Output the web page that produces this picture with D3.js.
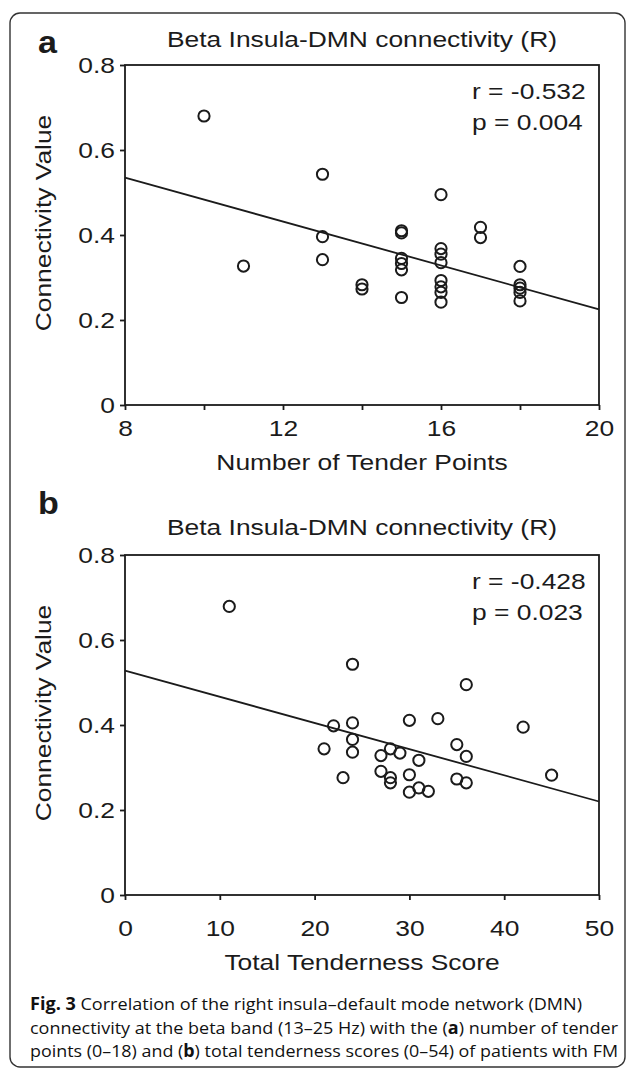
<!DOCTYPE html>
<html>
<head>
<meta charset="utf-8">
<script src="https://cdn.jsdelivr.net/npm/d3@7"></script>
<style>
  html, body { margin: 0; padding: 0; background: #fff; }
  svg { display: block; }
</style>
</head>
<body>
<svg id="chart" width="627" height="1069"></svg>
<script>
// ---------------- data ----------------
const tenderPoints = [10, 11, 13, 13, 13, 14, 14, 15, 15, 15, 15, 15, 15, 16, 16, 16, 16, 16, 16, 16, 16, 17, 17, 18, 18, 18, 18, 18];
const connA = [0.680, 0.327, 0.543, 0.396, 0.342, 0.283, 0.273, 0.410, 0.405, 0.345, 0.333, 0.318, 0.253, 0.495, 0.368, 0.355, 0.335, 0.293, 0.278, 0.265, 0.242, 0.418, 0.394, 0.326, 0.283, 0.275, 0.265, 0.245];
const tenderScore = [11, 24, 36, 22, 24, 30, 33, 42, 24, 21, 24, 27, 28, 29, 31, 35, 36, 27, 28, 28, 23, 30, 35, 36, 45, 30, 31, 32];
const connB = [0.679, 0.543, 0.495, 0.398, 0.405, 0.411, 0.415, 0.395, 0.366, 0.344, 0.336, 0.328, 0.344, 0.334, 0.317, 0.354, 0.326, 0.291, 0.276, 0.264, 0.276, 0.283, 0.273, 0.264, 0.282, 0.242, 0.252, 0.244];
const fitAx = [8, 20], fitAy = [0.535, 0.225];
const fitBx = [0, 50], fitBy = [0.528, 0.220];
const yTicks = [0, 0.2, 0.4, 0.6, 0.8];
const xTicksA = [8, 10, 12, 14, 16, 18, 20];
const xLabelsA = [8, 12, 16, 20];
const xTicksB = [0, 10, 20, 30, 40, 50];
const titleText = "Beta Insula-DMN connectivity (R)";
const statsA = ["r = -0.532", "p = 0.004"];
const statsB = ["r = -0.428", "p = 0.023"];
const captionLines = [
  [["Fig. 3", true], [" Correlation of the right insula\u2013default mode network (DMN)", false]],
  [["connectivity at the beta band (13\u201325 Hz) with the (", false], ["a", true], [") number of tender", false]],
  [["points (0\u201318) and (", false], ["b", true], [") total tenderness scores (0\u201354) of patients with FM", false]]
];

// ---------------- drawing ----------------
const svg = d3.select("#chart");
const INK = "#1b1b1b";
const FONT = "'Liberation Sans', Arial, Helvetica, sans-serif";
const FS = 22, SX = 1.2;

svg.append("rect").attr("x", 10).attr("y", 13).attr("width", 615).attr("height", 1054)
  .attr("rx", 10).attr("fill", "none").attr("stroke", "#333").attr("stroke-width", 1.4);

function stxt(x, y, str, anchor, opts = {}) {
  const t = svg.append("text")
    .attr("transform", `translate(${x},${y})${opts.rot ? " rotate(" + opts.rot + ")" : ""} scale(${opts.sx || SX},1)`)
    .attr("text-anchor", anchor)
    .attr("font-family", FONT)
    .attr("font-size", opts.fs || FS)
    .attr("font-weight", opts.bold ? "bold" : "normal")
    .attr("fill", INK)
    .text(str);
  return t;
}

function panel(cfg) {
  const x = d3.scaleLinear().domain(cfg.xDomain).range([125, 599]);
  const y = d3.scaleLinear().domain([0, 0.8]).range([cfg.bottom, cfg.bottom - 340]);
  const g = svg.append("g");

  // box
  g.append("rect").attr("x", x.range()[0]).attr("y", y(0.8))
    .attr("width", x.range()[1] - x.range()[0]).attr("height", y(0) - y(0.8))
    .attr("fill", "none").attr("stroke", INK).attr("stroke-width", 1.8);

  // y axis
  const ya = g.append("g").attr("transform", `translate(${x.range()[0]},0)`)
    .call(d3.axisLeft(y).tickValues(yTicks).tickSize(5).tickPadding(5)
      .tickFormat(d => d === 0 ? "0" : d3.format(".1f")(d)));
  ya.select(".domain").remove();
  ya.selectAll("line").attr("stroke", INK).attr("stroke-width", 1.8);
  ya.selectAll("text").attr("font-family", FONT).attr("font-size", FS).attr("fill", INK)
    .attr("x", -10 / SX).attr("dy", "0.36em").attr("transform", `scale(${SX},1)`);

  // x axis
  const xa = g.append("g").attr("transform", `translate(0,${cfg.bottom})`)
    .call(d3.axisBottom(x).tickValues(cfg.xTicks).tickSize(5).tickPadding(0)
      .tickFormat(d => cfg.xLabels.includes(d) ? d : ""));
  xa.select(".domain").remove();
  xa.selectAll("line").attr("stroke", INK).attr("stroke-width", 1.8);
  xa.selectAll("text").attr("font-family", FONT).attr("font-size", FS).attr("fill", INK)
    .attr("y", cfg.tickBase - cfg.bottom).attr("dy", 0).attr("transform", `scale(${SX},1)`);

  // fit line
  g.append("line")
    .attr("x1", x(cfg.fitX[0])).attr("y1", y(cfg.fitY[0]))
    .attr("x2", x(cfg.fitX[1])).attr("y2", y(cfg.fitY[1]))
    .attr("stroke", INK).attr("stroke-width", 1.8);

  // points
  g.selectAll("circle.pt").data(cfg.xs.map((v, i) => [v, cfg.ys[i]])).join("circle")
    .attr("class", "pt")
    .attr("cx", d => x(d[0])).attr("cy", d => y(d[1])).attr("r", 5.6)
    .attr("fill", "none").attr("stroke", INK).attr("stroke-width", 2);

  // texts
  stxt(362, cfg.titleBase, titleText, "middle");
  stxt(38, cfg.letterBase, cfg.letter, "start", { bold: true, fs: 31, sx: 1.1 });
  stxt(472, y(0.8) + 34, cfg.stats[0], "start");
  stxt(472, y(0.8) + 65, cfg.stats[1], "start");
  stxt(51, (y(0) + y(0.8)) / 2 - 12, "Connectivity Value", "middle", { rot: -90 });
  stxt(362, cfg.xTitleBase, cfg.xTitle, "middle");
}

panel({
  xDomain: [8, 20], xTicks: xTicksA, xLabels: xLabelsA, bottom: 405,
  tickBase: 436, titleBase: 47, letterBase: 53, letter: "a",
  fitX: fitAx, fitY: fitAy, xs: tenderPoints, ys: connA, stats: statsA,
  xTitle: "Number of Tender Points", xTitleBase: 470
});
panel({
  xDomain: [0, 50], xTicks: xTicksB, xLabels: xTicksB, bottom: 895,
  tickBase: 936, titleBase: 535, letterBase: 514, letter: "b",
  fitX: fitBx, fitY: fitBy, xs: tenderScore, ys: connB, stats: statsB,
  xTitle: "Total Tenderness Score", xTitleBase: 970
});

// caption
const capBase = [1010, 1034, 1057];
const capEnd = [582, 618, 618];
captionLines.forEach((parts, i) => {
  const t = svg.append("text").attr("x", 30).attr("y", capBase[i])
    .attr("font-family", "'Open Sans', 'Noto Sans', sans-serif").attr("font-size", 17)
    .attr("fill", "#111")
    .attr("textLength", capEnd[i] - 30).attr("lengthAdjust", "spacingAndGlyphs");
  parts.forEach(p => t.append("tspan").attr("font-weight", p[1] ? "bold" : "normal").text(p[0]));
});
</script>
</body>
</html>
